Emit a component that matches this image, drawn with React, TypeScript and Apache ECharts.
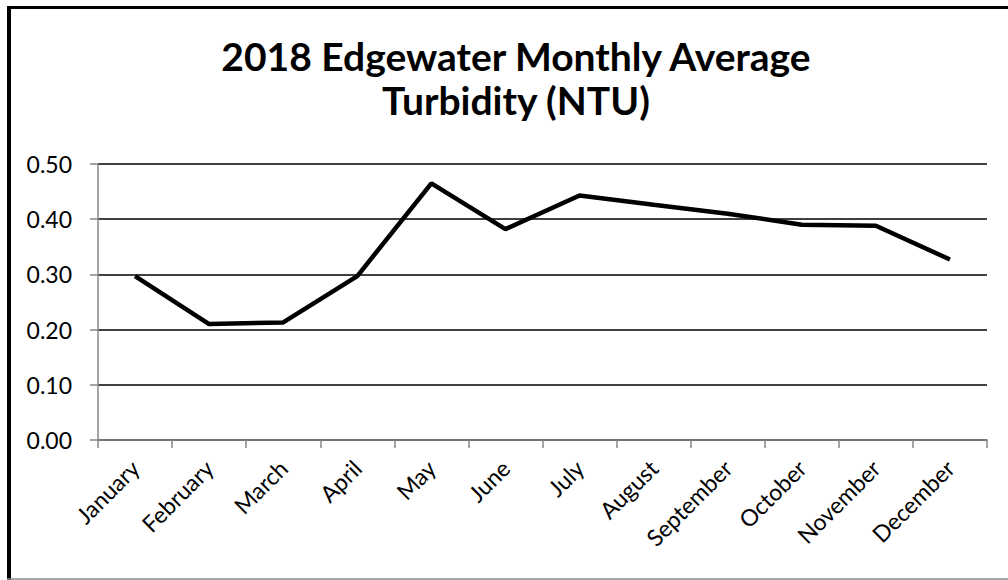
import React, { useEffect, useRef } from "react";
import * as echarts from "echarts";

const months = ["January", "February", "March", "April", "May", "June", "July", "August", "September", "October", "November", "December"];
const turbidity = [0.297, 0.21, 0.213, 0.297, 0.465, 0.382, 0.443, 0.426, 0.41, 0.39, 0.388, 0.327];
const titleLines = ["2018 Edgewater Monthly Average", "Turbidity (NTU)"];
const yMin = 0;
const yMax = 0.5;
const yStep = 0.1;

export default function App() {
  const ref = useRef<HTMLDivElement>(null);
  useEffect(() => {
    document.body.style.margin = "0";
    const chart = echarts.init(ref.current!, null, { renderer: "svg" });
    chart.setOption({
      animation: false,
      backgroundColor: "#fff",
      title: {
        text: titleLines.join("\n"),
        left: 511,
        textAlign: "center",
        top: 29,
        textStyle: {
          fontFamily: "Lato",
          fontWeight: "bold",
          fontSize: 39,
          lineHeight: 44,
          color: "#000",
        },
      },
      grid: { left: 98, right: 21, top: 164, bottom: 140, containLabel: false },
      xAxis: {
        type: "category",
        data: months,
        boundaryGap: true,
        axisLine: { lineStyle: { color: "#868686", width: 1.5 } },
        axisTick: { show: true, length: 8, alignWithLabel: false, lineStyle: { color: "#868686", width: 1.5 } },
        axisLabel: {
          rotate: 45,
          interval: 0,
          margin: 24,
          fontFamily: "Lato",
          fontSize: 23,
          color: "#000",
        },
      },
      yAxis: {
        type: "value",
        min: yMin,
        max: yMax,
        interval: yStep,
        axisLine: { show: true, lineStyle: { color: "#868686", width: 1.5 } },
        axisTick: { show: true, length: 8, lineStyle: { color: "#868686", width: 1.5 } },
        axisLabel: {
          margin: 26,
          fontFamily: "Lato",
          fontSize: 23,
          color: "#000",
          formatter: (v: number) => v.toFixed(2),
        },
        splitLine: { show: true, lineStyle: { color: "#000", width: 1.5 } },
      },
      series: [
        {
          type: "line",
          data: turbidity,
          showSymbol: false,
          symbol: "none",
          lineStyle: { color: "#000", width: 4.5 },
        },
      ],
      graphic: [
        { type: "line", shape: { x1: 9, y1: 6, x2: 9, y2: 580 }, style: { stroke: "#000", lineWidth: 4 } },
        { type: "line", shape: { x1: 7, y1: 7.5, x2: 1008, y2: 7.5 }, style: { stroke: "#000", lineWidth: 3 } },
        { type: "line", shape: { x1: 7, y1: 579, x2: 1008, y2: 579 }, style: { stroke: "#888", lineWidth: 1.5 } },
      ],
    });
    return () => chart.dispose();
  }, []);
  return <div ref={ref} style={{ position: "absolute", left: 0, top: 0, width: 1008, height: 580 }} />;
}
